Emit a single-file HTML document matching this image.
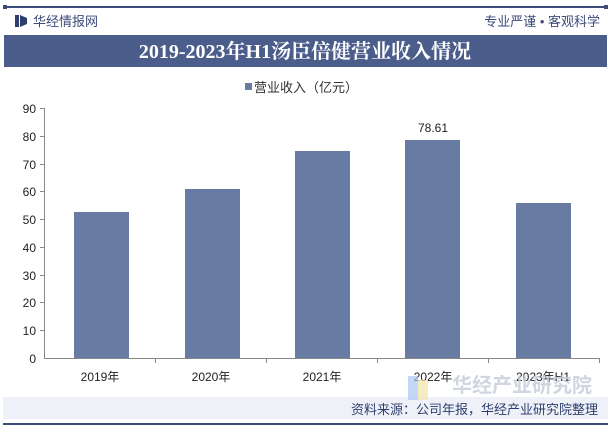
<!DOCTYPE html><html><head><meta charset="utf-8"><style>body{margin:0;width:611px;height:428px;background:#fff;overflow:hidden;font-family:"Liberation Sans","Noto Sans CJK SC",sans-serif}</style></head><body>
<svg width="611" height="428" xmlns="http://www.w3.org/2000/svg" font-family="Liberation Sans, Noto Sans CJK SC, sans-serif">
<rect x="3" y="6" width="605" height="2" fill="#3b4c78"/>
<rect x="3" y="5" width="4" height="4" fill="#3b4c78"/><rect x="604" y="5" width="4" height="4" fill="#3b4c78"/>
<rect x="15" y="15" width="4" height="12" fill="#2e3f6e"/><polygon points="20,15 27,18 27,24 20,27" fill="#2e3f6e"/>
<text x="33" y="26" font-size="13" fill="#3b4c78">华经情报网</text>
<text x="600" y="26" font-size="13" fill="#3b4c78" text-anchor="end">专业严谨 • 客观科学</text>
<rect x="4" y="35" width="603" height="32" fill="#4b5d8b"/>
<text x="305" y="58" font-size="20" font-weight="bold" fill="#fff" text-anchor="middle" font-family="Liberation Serif, Noto Serif CJK SC, serif">2019-2023年H1汤臣倍健营业收入情况</text>
<rect x="245" y="83" width="7" height="7" fill="#6a7ba1"/>
<text x="254" y="92" font-size="13" fill="#333">营业收入（亿元）</text>
<g font-size="12" fill="#222" text-anchor="end">
<text x="36" y="113">90</text><text x="36" y="141">80</text><text x="36" y="169">70</text><text x="36" y="196">60</text><text x="36" y="224">50</text><text x="36" y="252">40</text><text x="36" y="280">30</text><text x="36" y="307">20</text><text x="36" y="335">10</text><text x="36" y="363">0</text>
</g>
<g stroke="#888" stroke-width="1">
<line x1="44.5" y1="108" x2="44.5" y2="358"/><line x1="44" y1="358.5" x2="600" y2="358.5"/>
<line x1="40" y1="108.5" x2="44" y2="108.5"/><line x1="40" y1="136.5" x2="44" y2="136.5"/><line x1="40" y1="164.5" x2="44" y2="164.5"/><line x1="40" y1="191.5" x2="44" y2="191.5"/><line x1="40" y1="219.5" x2="44" y2="219.5"/><line x1="40" y1="247.5" x2="44" y2="247.5"/><line x1="40" y1="275.5" x2="44" y2="275.5"/><line x1="40" y1="302.5" x2="44" y2="302.5"/><line x1="40" y1="330.5" x2="44" y2="330.5"/>
<line x1="155.5" y1="358" x2="155.5" y2="363"/><line x1="266.5" y1="358" x2="266.5" y2="363"/><line x1="377.5" y1="358" x2="377.5" y2="363"/><line x1="488.5" y1="358" x2="488.5" y2="363"/><line x1="599.5" y1="358" x2="599.5" y2="363"/>
</g>
<g fill="#687ba2">
<rect x="74" y="212" width="55" height="146"/>
<rect x="185" y="189" width="55" height="169"/>
<rect x="295" y="151" width="55" height="207"/>
<rect x="405" y="140" width="55" height="218"/>
<rect x="516" y="203" width="55" height="155"/>
</g>
<text x="433" y="132" font-size="12" fill="#222" text-anchor="middle">78.61</text>
<g font-size="12" fill="#222" text-anchor="middle">
<text x="100" y="381">2019年</text><text x="211" y="381">2020年</text><text x="322" y="381">2021年</text><text x="433" y="381">2022年</text><text x="543" y="381">2023年H1</text>
</g>
<rect x="3" y="397" width="605" height="22" fill="#eef1f7"/>
<rect x="408" y="376" width="10" height="24" fill="#a9c8f0" opacity="0.7"/><rect x="418" y="380" width="10" height="20" fill="#f3e2a8" opacity="0.7"/>
<text x="452" y="392" font-size="20" font-weight="bold" fill="#c5cbd8" opacity="0.8">华经产业研究院</text>
<text x="598" y="414" font-size="13" fill="#2e3f6e" text-anchor="end">资料来源：公司年报，华经产业研究院整理</text>
<rect x="3" y="423" width="605" height="2" fill="#3b4c78"/>
</svg></body></html>
